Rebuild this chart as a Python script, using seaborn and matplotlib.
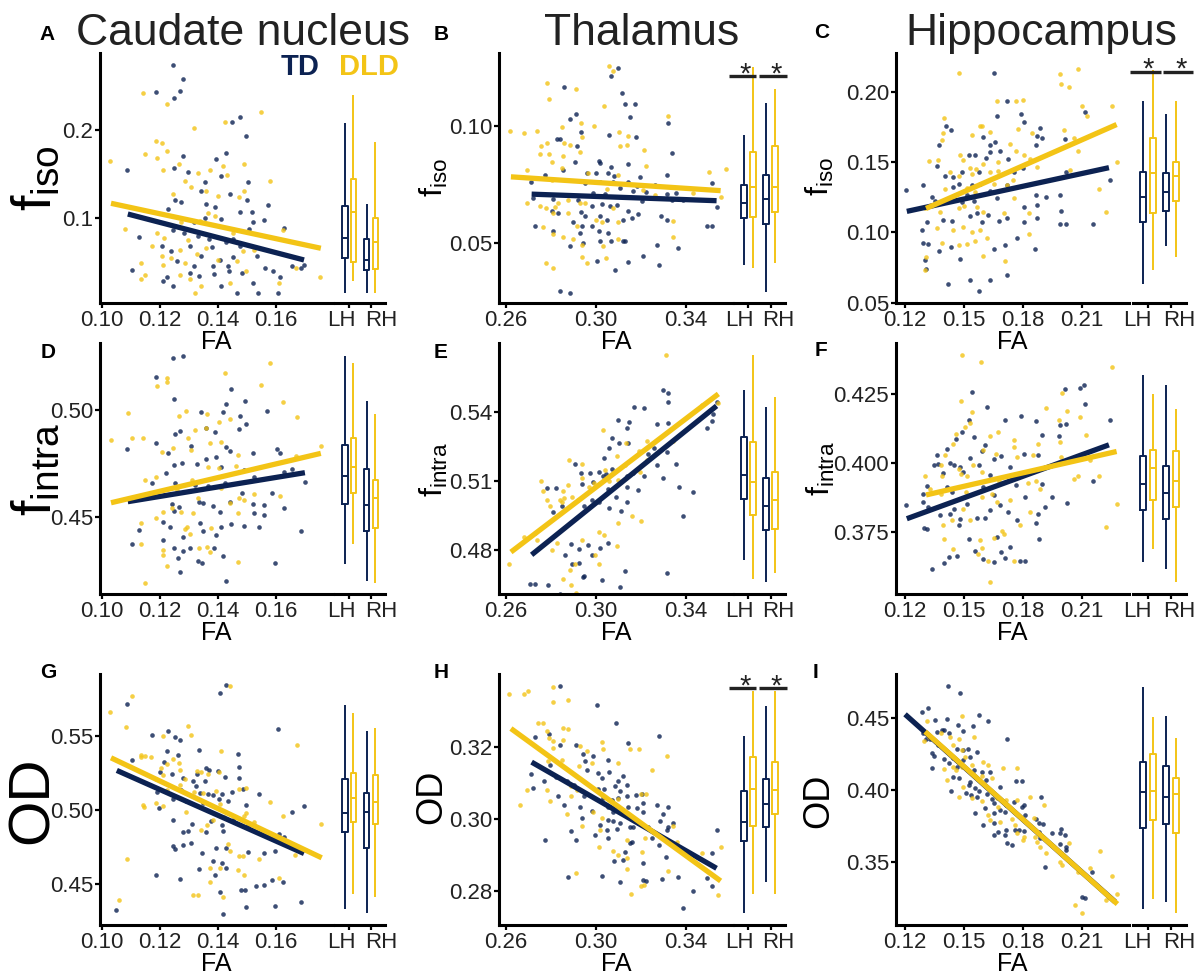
import matplotlib
matplotlib.use("Agg")
import matplotlib.pyplot as plt
from matplotlib.transforms import ScaledTranslation
import seaborn as sns
import pandas as pd

# colours of the two groups
TD_COLOR = "#0c2252"
DLD_COLOR = "#f3c416"

# ---------------- scatter data: (FA, value) ----------------
a_td = [(0.1246,0.2738),(0.1278,0.2578),(0.1186,0.2433),(0.1269,0.2445),(0.1248,0.2365),(0.1477,0.2144),(0.1448,0.2091),
        (0.1497,0.1932),(0.1278,0.1703),(0.1392,0.1665),(0.1429,0.1741),(0.1086,0.1551),(0.1248,0.1563),(0.1295,0.1521),
        (0.1409,0.1475),(0.1357,0.1411),(0.1503,0.1407),(0.1340,0.1304),(0.1443,0.1278),(0.1251,0.1209),(0.1274,0.1179),
        (0.1360,0.1160),(0.1389,0.1125),(0.1501,0.1209),(0.1573,0.1152),(0.1229,0.1106),(0.1518,0.1068),(0.1477,0.1065),
        (0.1560,0.0973),(0.1318,0.0951),(0.1411,0.0992),(0.1520,0.0951),(0.1629,0.0882),(0.1507,0.0875),(0.1128,0.0783),
        (0.1246,0.0867),(0.1283,0.0829),(0.1331,0.0798),(0.1369,0.0760),(0.1429,0.0722),(0.1475,0.0677),(0.1206,0.0684),
        (0.1238,0.0620),(0.1303,0.0684),(0.1381,0.0665),(0.1451,0.0555),(0.1534,0.0563),(0.1341,0.0563),(0.1257,0.0506),
        (0.1318,0.0449),(0.1383,0.0449),(0.1435,0.0449),(0.1483,0.0380),(0.1561,0.0430),(0.1589,0.0403),(0.1103,0.0411),
        (0.1223,0.0335),(0.1211,0.0289),(0.1335,0.0342),(0.1386,0.0365),(0.1409,0.0228),(0.1437,0.0403),(0.1615,0.0335),
        (0.1520,0.0259),(0.1466,0.0144),(0.1537,0.0144),(0.1606,0.0144),(0.1655,0.0456),(0.1686,0.0430),(0.1697,0.0468),
        (0.1355,0.1000),(0.1451,0.0760),(0.1406,0.0525),(0.1303,0.0373),(0.1246,0.0228)]
a_dld = [(0.1029,0.1646),(0.1143,0.2418),(0.1223,0.2293),(0.1317,0.2027),(0.1425,0.2091),(0.1549,0.2205),(0.1186,0.1875),
         (0.1206,0.1848),(0.1149,0.1722),(0.1189,0.1677),(0.1225,0.1760),(0.1209,0.1540),(0.1265,0.1616),(0.1286,0.1418),
         (0.1331,0.1513),(0.1374,0.1551),(0.1417,0.1589),(0.1491,0.1608),(0.1432,0.1483),(0.1579,0.1426),(0.1246,0.1278),
         (0.1306,0.1354),(0.1360,0.1304),(0.1400,0.1255),(0.1472,0.1240),(0.1489,0.1304),(0.1080,0.0875),(0.1189,0.0829),
         (0.1171,0.0684),(0.1215,0.0772),(0.1274,0.0951),(0.1337,0.0962),(0.1389,0.1019),(0.1451,0.0829),(0.1623,0.0867),
         (0.1206,0.0563),(0.1238,0.0544),(0.1269,0.0639),(0.1326,0.0593),(0.1360,0.0658),(0.1486,0.0620),(0.1526,0.0631),
         (0.1134,0.0494),(0.1211,0.0468),(0.1286,0.0487),(0.1400,0.0525),(0.1465,0.0506),(0.1149,0.0354),(0.1135,0.0304),
         (0.1269,0.0354),(0.1305,0.0304),(0.1343,0.0228),(0.1440,0.0259),(0.1497,0.0392),(0.1609,0.0259),(0.1669,0.0430),
         (0.1752,0.0335),(0.1322,0.0152),(0.1366,0.1057),(0.1297,0.0753)]

b_td = [(0.3099,0.1250),(0.3065,0.1213),(0.2859,0.1165),(0.3117,0.1139),(0.3173,0.1094),(0.3130,0.1094),(0.3151,0.1037),
        (0.3321,0.1014),(0.2910,0.1050),(0.2884,0.1028),(0.2933,0.0976),(0.2825,0.0943),(0.2840,0.0943),(0.2914,0.0915),
        (0.3059,0.0962),(0.3178,0.0955),(0.3336,0.0886),(0.3015,0.0851),(0.3065,0.0827),(0.3018,0.0844),(0.2908,0.0847),
        (0.2852,0.0812),(0.3144,0.0837),(0.2773,0.0791),(0.2959,0.0801),(0.3000,0.0798),(0.3052,0.0798),(0.3081,0.0787),
        (0.3196,0.0784),(0.3315,0.0791),(0.2710,0.0763),(0.2951,0.0756),(0.3018,0.0763),(0.3077,0.0759),(0.3144,0.0759),
        (0.3184,0.0744),(0.3262,0.0749),(0.3514,0.0756),(0.2721,0.0692),(0.2810,0.0688),(0.2985,0.0716),(0.3040,0.0709),
        (0.3107,0.0734),(0.3166,0.0723),(0.3221,0.0720),(0.3315,0.0710),(0.3356,0.0713),(0.3388,0.0685),(0.2921,0.0685),
        (0.2981,0.0659),(0.3025,0.0668),(0.3062,0.0659),(0.3095,0.0663),(0.3144,0.0639),(0.3203,0.0680),(0.3336,0.0682),
        (0.3536,0.0653),(0.2806,0.0639),(0.2830,0.0628),(0.2933,0.0632),(0.2951,0.0614),(0.3018,0.0616),(0.3047,0.0599),
        (0.3121,0.0599),(0.3159,0.0607),(0.3187,0.0624),(0.3289,0.0616),(0.3315,0.0597),(0.2729,0.0575),(0.2899,0.0592),
        (0.2936,0.0574),(0.2984,0.0575),(0.3013,0.0550),(0.3055,0.0543),(0.2810,0.0550),(0.3495,0.0571),(0.3514,0.0571),
        (0.2929,0.0543),(0.3065,0.0511),(0.3118,0.0511),(0.3130,0.0507),(0.3018,0.0511),(0.2884,0.0486),(0.2941,0.0500),
        (0.3273,0.0490),(0.3366,0.0479),(0.3210,0.0446),(0.3003,0.0422),(0.3144,0.0418),(0.3281,0.0408),(0.3084,0.0384),
        (0.2840,0.0294),(0.2884,0.0287)]
b_dld = [(0.2618,0.0980),(0.2680,0.0969),(0.2739,0.0980),(0.2781,0.1182),(0.2791,0.1114),(0.2910,0.1158),(0.3059,0.1256),
         (0.3077,0.1236),(0.3037,0.1085),(0.2933,0.1014),(0.2847,0.0997),(0.2936,0.0955),(0.2991,0.1000),(0.3104,0.0976),
         (0.3141,0.0957),(0.3318,0.1043),(0.2754,0.0916),(0.2781,0.0926),(0.2859,0.0926),(0.2884,0.0919),(0.3107,0.0916),
         (0.3136,0.0919),(0.3215,0.0898),(0.2753,0.0879),(0.2793,0.0879),(0.2929,0.0891),(0.2855,0.0872),(0.2804,0.0847),
         (0.2850,0.0820),(0.3224,0.0831),(0.3502,0.0803),(0.3576,0.0815),(0.2692,0.0812),(0.3099,0.0791),(0.2966,0.0798),
         (0.2803,0.0770),(0.2695,0.0670),(0.2751,0.0659),(0.2778,0.0649),(0.2818,0.0656),(0.2830,0.0673),(0.2877,0.0685),
         (0.2929,0.0673),(0.2951,0.0670),(0.3047,0.0730),(0.3077,0.0649),(0.3000,0.0599),(0.3028,0.0588),(0.3099,0.0592),
         (0.3210,0.0727),(0.3262,0.0706),(0.3430,0.0713),(0.3554,0.0695),(0.2763,0.0567),(0.2810,0.0628),(0.2877,0.0628),
         (0.2914,0.0571),(0.2810,0.0540),(0.2852,0.0526),(0.2896,0.0517),(0.2936,0.0493),(0.3030,0.0486),(0.3099,0.0517),
         (0.3344,0.0528),(0.3341,0.0595),(0.2936,0.0440),(0.2959,0.0415),(0.3043,0.0436),(0.2778,0.0415),(0.2807,0.0393)]

c_td = [(0.1205,0.1300),(0.1650,0.2131),(0.1409,0.1754),(0.1434,0.1728),(0.1373,0.1618),(0.1667,0.1830),(0.1718,0.1936),
        (0.1789,0.1841),(0.1803,0.1783),(0.1884,0.1740),(0.2113,0.1853),(0.1599,0.1677),(0.1633,0.1618),(0.1658,0.1641),
        (0.1871,0.1684),(0.1896,0.1670),(0.1867,0.1622),(0.2015,0.1665),(0.1361,0.1472),(0.1404,0.1399),(0.1446,0.1394),
        (0.1489,0.1429),(0.1523,0.1552),(0.1557,0.1547),(0.1577,0.1429),(0.1613,0.1528),(0.1633,0.1571),(0.1684,0.1582),
        (0.1725,0.1524),(0.1754,0.1429),(0.1801,0.1458),(0.2020,0.1429),(0.2241,0.1370),(0.1293,0.1340),(0.1336,0.1253),
        (0.1443,0.1323),(0.1472,0.1342),(0.1540,0.1335),(0.1582,0.1347),(0.1630,0.1295),(0.1718,0.1335),(0.1867,0.1264),
        (0.1918,0.1253),(0.1353,0.1222),(0.1409,0.1229),(0.1489,0.1213),(0.1517,0.1269),(0.1553,0.1222),(0.1667,0.1241),
        (0.1803,0.1182),(0.1871,0.1194),(0.1986,0.1264),(0.1993,0.1154),(0.1310,0.1071),(0.1395,0.1088),(0.1438,0.1081),
        (0.1531,0.1118),(0.1565,0.1135),(0.1591,0.1076),(0.1624,0.1123),(0.1680,0.1081),(0.1718,0.1100),(0.1803,0.1071),
        (0.1871,0.1100),(0.1986,0.1060),(0.2020,0.1060),(0.2156,0.1060),(0.1288,0.1017),(0.1290,0.0923),(0.1319,0.0916),
        (0.1373,0.0864),(0.1434,0.0892),(0.1477,0.0812),(0.1302,0.0805),(0.1307,0.0742),(0.1653,0.0883),(0.1709,0.0907),
        (0.1769,0.0963),(0.1862,0.0883),(0.1531,0.0664),(0.1630,0.0664),(0.1721,0.0695),(0.1421,0.0633),(0.1577,0.0582)]
c_dld = [(0.1472,0.2131),(0.1990,0.2124),(0.2078,0.2164),(0.1993,0.2053),(0.2032,0.2035),(0.2100,0.1900),(0.2125,0.1825),
         (0.2253,0.1900),(0.1399,0.1811),(0.1395,0.1705),(0.1579,0.1759),(0.1591,0.1754),(0.1630,0.1717),(0.1670,0.1936),
         (0.1765,0.1936),(0.1798,0.1943),(0.1772,0.1736),(0.1845,0.1705),(0.1540,0.1693),(0.2010,0.1728),(0.2057,0.1670),
         (0.2078,0.1582),(0.1387,0.1658),(0.1324,0.1505),(0.1370,0.1516),(0.1480,0.1547),(0.1494,0.1516),(0.1528,0.1460),
         (0.1562,0.1453),(0.1596,0.1488),(0.1675,0.1500),(0.1735,0.1625),(0.1765,0.1582),(0.1803,0.1547),(0.1837,0.1524),
         (0.1871,0.1465),(0.2037,0.1441),(0.2278,0.1500),(0.1429,0.1429),(0.1472,0.1401),(0.1540,0.1418),(0.1633,0.1429),
         (0.1675,0.1436),(0.1748,0.1370),(0.1404,0.1307),(0.1514,0.1312),(0.1557,0.1288),(0.1653,0.1347),(0.1718,0.1335),
         (0.1752,0.1241),(0.1302,0.1170),(0.1378,0.1147),(0.1472,0.1175),(0.1502,0.1187),(0.1565,0.1182),(0.1596,0.1142),
         (0.1701,0.1135),(0.1828,0.1135),(0.2185,0.1307),(0.2224,0.1147),(0.1361,0.1029),(0.1446,0.1017),(0.1497,0.1041),
         (0.1540,0.1005),(0.1582,0.1017),(0.1616,0.0963),(0.1387,0.0923),(0.1472,0.0911),(0.1514,0.0918),(0.1557,0.0935),
         (0.1828,0.0989),(0.1305,0.0822),(0.1302,0.0735),(0.1596,0.0829),(0.1709,0.0793)]

d_td = [(0.1246,0.5244),(0.1278,0.5253),(0.1186,0.5152),(0.1248,0.5050),(0.1446,0.5098),(0.1494,0.5042),(0.1429,0.5028),
        (0.1340,0.4989),(0.1417,0.4992),(0.1475,0.4974),(0.1569,0.4995),(0.1497,0.4935),(0.1389,0.4899),(0.1269,0.4904),
        (0.1251,0.4887),(0.1358,0.4915),(0.1471,0.4911),(0.1086,0.4817),(0.1186,0.4848),(0.1306,0.4832),(0.1229,0.4801),
        (0.1429,0.4826),(0.1440,0.4811),(0.1520,0.4798),(0.1603,0.4818),(0.1615,0.4798),(0.1358,0.4770),(0.1392,0.4783),
        (0.1248,0.4744),(0.1275,0.4752),(0.1328,0.4747),(0.1411,0.4736),(0.1491,0.4720),(0.1173,0.4658),(0.1221,0.4705),
        (0.1251,0.4661),(0.1320,0.4651),(0.1366,0.4646),(0.1423,0.4658),(0.1483,0.4612),(0.1526,0.4686),(0.1629,0.4713),
        (0.1657,0.4725),(0.1699,0.4666),(0.1335,0.4573),(0.1349,0.4568),(0.1243,0.4561),(0.1383,0.4553),(0.1440,0.4573),
        (0.1520,0.4561),(0.1560,0.4557),(0.1586,0.4612),(0.1248,0.4531),(0.1265,0.4550),(0.1406,0.4526),(0.1526,0.4522),
        (0.1560,0.4511),(0.1629,0.4545),(0.1211,0.4477),(0.1234,0.4453),(0.1337,0.4475),(0.1411,0.4457),(0.1446,0.4469),
        (0.1489,0.4461),(0.1543,0.4457),(0.1126,0.4441),(0.1209,0.4394),(0.1278,0.4407),(0.1349,0.4438),(0.1394,0.4418),
        (0.1686,0.4438),(0.1103,0.4376),(0.1248,0.4359),(0.1303,0.4359),(0.1278,0.4345),(0.1386,0.4356),(0.1417,0.4320),
        (0.1263,0.4312),(0.1331,0.4298),(0.1346,0.4286),(0.1269,0.4247),(0.1429,0.4205),(0.1598,0.4286)]
d_dld = [(0.1031,0.4860),(0.1088,0.4984),(0.1105,0.4868),(0.1143,0.4871),(0.1223,0.5151),(0.1223,0.5129),(0.1189,0.5112),
         (0.1426,0.5174),(0.1549,0.5116),(0.1579,0.5217),(0.1623,0.5036),(0.1674,0.4969),(0.1289,0.4997),(0.1266,0.4972),
         (0.1362,0.4980),(0.1403,0.4946),(0.1440,0.4957),(0.1320,0.4907),(0.1360,0.4915),(0.1297,0.4868),(0.1246,0.4821),
         (0.1206,0.4806),(0.1306,0.4814),(0.1371,0.4845),(0.1411,0.4852),(0.1469,0.4790),(0.1669,0.4786),(0.1754,0.4834),
         (0.1149,0.4674),(0.1186,0.4689),(0.1257,0.4627),(0.1309,0.4674),(0.1366,0.4736),(0.1403,0.4728),(0.1463,0.4739),
         (0.1474,0.4589),(0.1491,0.4581),(0.1524,0.4609),(0.1615,0.4601),(0.1331,0.4589),(0.1314,0.4519),(0.1240,0.4542),
         (0.1272,0.4526),(0.1440,0.4565),(0.1469,0.4519),(0.1186,0.4498),(0.1209,0.4526),(0.1134,0.4475),(0.1294,0.4457),
         (0.1303,0.4421),(0.1377,0.4449),(0.1286,0.4444),(0.1209,0.4348),(0.1212,0.4325),(0.1134,0.4376),(0.1334,0.4359),
         (0.1363,0.4363),(0.1372,0.4340),(0.1469,0.4293),(0.1223,0.4275),(0.1149,0.4196),(0.1411,0.4635)]

e_td = [(0.3296,0.5495),(0.3319,0.5483),(0.3321,0.5444),(0.3170,0.5420),(0.3215,0.5418),(0.3096,0.5365),(0.3136,0.5328),
        (0.3148,0.5357),(0.3273,0.5347),(0.3321,0.5353),(0.3519,0.5389),(0.3536,0.5440),(0.3514,0.5360),(0.3492,0.5328),
        (0.3070,0.5285),(0.3059,0.5242),(0.3104,0.5263),(0.3144,0.5266),(0.3233,0.5216),(0.3259,0.5242),(0.3314,0.5227),
        (0.3273,0.5167),(0.3356,0.5172),(0.3036,0.5201),(0.3015,0.5140),(0.3030,0.5119),(0.2907,0.5172),(0.2932,0.5136),
        (0.2973,0.5133),(0.3043,0.5130),(0.3071,0.5152),(0.3136,0.5122),(0.3166,0.5133),(0.3215,0.5119),(0.3298,0.5112),
        (0.3433,0.5051),(0.3369,0.5073),(0.2781,0.5068),(0.2822,0.5068),(0.2936,0.5087),(0.2988,0.5093),(0.3052,0.5064),
        (0.3089,0.5032),(0.3136,0.5075),(0.3188,0.5061),(0.2810,0.4963),(0.2850,0.4989),(0.2981,0.5018),(0.3013,0.5006),
        (0.3058,0.4981),(0.3111,0.4971),(0.3136,0.5010),(0.2948,0.4989),(0.3388,0.4948),(0.2887,0.4824),(0.2924,0.4806),
        (0.2982,0.4777),(0.3018,0.4809),(0.3052,0.4831),(0.2862,0.4780),(0.2892,0.4740),(0.2926,0.4744),(0.2948,0.4686),
        (0.3025,0.4669),(0.3129,0.4707),(0.3107,0.4639),(0.3314,0.4698),(0.2707,0.4654),(0.2729,0.4654),(0.2717,0.4600),
        (0.2788,0.4650),(0.2840,0.4611),(0.2803,0.4559),(0.2941,0.4683),(0.2966,0.4821)]
e_dld = [(0.2615,0.4737),(0.2680,0.4855),(0.2739,0.4845),(0.2756,0.5098),(0.2764,0.5054),(0.2784,0.5018),(0.2796,0.4989),
         (0.2847,0.5010),(0.2855,0.5054),(0.2877,0.5081),(0.2880,0.5192),(0.2938,0.5175),(0.2936,0.5113),(0.2858,0.5026),
         (0.2892,0.5029),(0.2936,0.4845),(0.2921,0.5019),(0.3030,0.5322),(0.3040,0.5146),(0.3059,0.5098),(0.3092,0.5207),
         (0.3133,0.5265),(0.3193,0.5228),(0.3225,0.5272),(0.3311,0.5646),(0.3470,0.5431),(0.3544,0.5438),(0.3341,0.5272),
         (0.3159,0.4946),(0.3199,0.4925),(0.3096,0.4918),(0.3015,0.4877),(0.3036,0.4863),(0.3092,0.4816),(0.3015,0.4737),
         (0.2996,0.4777),(0.2907,0.4741),(0.2884,0.4715),(0.2852,0.4675),(0.2887,0.4647),(0.2910,0.4614),(0.2873,0.4600),
         (0.2806,0.4578),(0.2840,0.5018),(0.2993,0.5090),(0.2970,0.5075),(0.3099,0.5104),(0.3129,0.5169),(0.3196,0.5140),
         (0.2729,0.4874),(0.2803,0.4802),(0.2825,0.4831),(0.3225,0.5192)]

f_td = [(0.1205,0.3847),(0.1298,0.3765),(0.1310,0.3763),(0.1336,0.3616),(0.1290,0.3889),(0.1319,0.3841),(0.1361,0.4030),
        (0.1348,0.3992),(0.1370,0.3995),(0.1412,0.4052),(0.1429,0.4001),(0.1451,0.3994),(0.1489,0.4112),(0.1460,0.4088),
        (0.1526,0.4154),(0.1543,0.4257),(0.1551,0.4094),(0.1607,0.4066),(0.1619,0.4202),(0.1709,0.4154),(0.1791,0.4169),
        (0.1867,0.4151),(0.1896,0.4100),(0.1981,0.4098),(0.1990,0.4139),(0.2020,0.4142),(0.2015,0.4266),(0.2088,0.4272),
        (0.2112,0.4284),(0.2117,0.4214),(0.2241,0.4157),(0.1395,0.3965),(0.1412,0.3913),(0.1438,0.3895),(0.1477,0.3986),
        (0.1497,0.3967),(0.1531,0.4018),(0.1574,0.3994),(0.1591,0.4042),(0.1599,0.3913),(0.1630,0.3958),(0.1650,0.4016),
        (0.1689,0.4025),(0.1735,0.3986),(0.1765,0.3922),(0.1803,0.4034),(0.1874,0.4028),(0.1896,0.3923),(0.2156,0.3934),
        (0.1314,0.3919),(0.1290,0.3861),(0.1378,0.3811),(0.1429,0.3817),(0.1451,0.3835),(0.1480,0.3799),(0.1514,0.3853),
        (0.1565,0.3801),(0.1607,0.3801),(0.1633,0.3829),(0.1653,0.3883),(0.1684,0.3847),(0.1726,0.3823),(0.1769,0.3793),
        (0.1811,0.3877),(0.1867,0.3784),(0.1876,0.3817),(0.1913,0.3843),(0.1947,0.3877),(0.2023,0.3857),(0.1400,0.3639),
        (0.1426,0.3660),(0.1463,0.3664),(0.1472,0.3775),(0.1523,0.3727),(0.1557,0.3684),(0.1599,0.3652),(0.1653,0.3642),
        (0.1689,0.3678),(0.1709,0.3657),(0.1735,0.3696),(0.1783,0.3648),(0.1811,0.3648),(0.1879,0.3727),(0.1667,0.3733)]
f_dld = [(0.1489,0.4392),(0.1585,0.4367),(0.2253,0.4349),(0.1483,0.4223),(0.1540,0.4184),(0.1918,0.4199),(0.1996,0.4254),
         (0.2022,0.4187),(0.2090,0.4166),(0.1981,0.4154),(0.1531,0.4146),(0.1506,0.4130),(0.1458,0.4106),(0.1443,0.4070),
         (0.1630,0.4098),(0.1675,0.4112),(0.1752,0.4082),(0.1755,0.4058),(0.1874,0.4070),(0.1990,0.4076),(0.2122,0.4102),
         (0.1404,0.4028),(0.1545,0.3992),(0.1599,0.4046),(0.1664,0.4034),(0.1769,0.4022),(0.1850,0.4028),(0.1993,0.4022),
         (0.2139,0.4010),(0.1302,0.3953),(0.1382,0.3992),(0.1387,0.3955),(0.1472,0.3980),(0.1483,0.3959),(0.1514,0.3955),
         (0.1591,0.3967),(0.1680,0.3934),(0.1823,0.3928),(0.1865,0.3937),(0.2061,0.3943),(0.2078,0.3955),(0.2185,0.3952),
         (0.1327,0.3907),(0.1383,0.3889),(0.1511,0.3895),(0.1591,0.3877),(0.1641,0.3889),(0.1667,0.3859),(0.1735,0.3865),
         (0.1884,0.3905),(0.1833,0.3825),(0.2278,0.3851),(0.1395,0.3777),(0.1438,0.3793),(0.1494,0.3835),(0.1531,0.3793),
         (0.1582,0.3723),(0.1591,0.3693),(0.1621,0.3645),(0.1630,0.3572),(0.1653,0.3730),(0.1692,0.3754),(0.1701,0.3745),
         (0.1783,0.3778),(0.1399,0.3724),(0.1443,0.3688),(0.1570,0.3670),(0.1752,0.3646),(0.2224,0.3769)]

g_td = [(0.1429,0.5843),(0.1408,0.5791),(0.1086,0.5717),(0.1607,0.5544),(0.1229,0.5533),(0.1174,0.5506),(0.1251,0.5492),
        (0.1269,0.5472),(0.1335,0.5409),(0.1103,0.5337),(0.1223,0.5398),(0.1263,0.5375),(0.1469,0.5382),(0.1215,0.5328),
        (0.1360,0.5285),(0.1369,0.5270),(0.1472,0.5292),(0.1200,0.5256),(0.1240,0.5247),(0.1278,0.5218),(0.1326,0.5247),
        (0.1423,0.5222),(0.1472,0.5218),(0.1314,0.5196),(0.1354,0.5196),(0.1400,0.5263),(0.1189,0.5121),(0.1272,0.5139),
        (0.1323,0.5162),(0.1337,0.5117),(0.1366,0.5110),(0.1383,0.5101),(0.1415,0.5112),(0.1449,0.5121),(0.1486,0.5144),
        (0.1543,0.5112),(0.1198,0.5016),(0.1246,0.5072),(0.1291,0.5061),(0.1349,0.5049),(0.1403,0.5072),(0.1434,0.5061),
        (0.1497,0.5034),(0.1246,0.4937),(0.1309,0.4910),(0.1377,0.4926),(0.1415,0.4903),(0.1451,0.4937),(0.1503,0.4903),
        (0.1697,0.5027),(0.1655,0.4989),(0.1278,0.4852),(0.1297,0.4858),(0.1360,0.4852),(0.1417,0.4858),(0.1609,0.4840),
        (0.1629,0.4818),(0.1246,0.4757),(0.1251,0.4739),(0.1278,0.4762),(0.1306,0.4780),(0.1346,0.4712),(0.1383,0.4656),
        (0.1394,0.4742),(0.1429,0.4746),(0.1503,0.4717),(0.1560,0.4708),(0.1598,0.4724),(0.1334,0.4604),(0.1429,0.4607),
        (0.1415,0.4645),(0.1389,0.4562),(0.1480,0.4465),(0.1494,0.4465),(0.1530,0.4488),(0.1559,0.4499),(0.1586,0.4526),
        (0.1626,0.4515),(0.1186,0.4562),(0.1269,0.4537),(0.1408,0.4447),(0.1497,0.4348),(0.1598,0.4353),(0.1686,0.4380),
        (0.1049,0.4326),(0.1417,0.4303)]
g_dld = [(0.1029,0.5661),(0.1103,0.5773),(0.1083,0.5560),(0.1440,0.5836),(0.1295,0.5566),(0.1306,0.5510),(0.1209,0.5503),
         (0.1674,0.5438),(0.1135,0.5375),(0.1150,0.5364),(0.1169,0.5360),(0.1135,0.5360),(0.1246,0.5346),(0.1266,0.5319),
         (0.1411,0.5398),(0.1203,0.5285),(0.1223,0.5308),(0.1269,0.5274),(0.1209,0.5234),(0.1326,0.5267),(0.1343,0.5256),
         (0.1366,0.5245),(0.1403,0.5256),(0.1269,0.5173),(0.1286,0.5211),(0.1186,0.5207),(0.1223,0.5139),(0.1318,0.5121),
         (0.1349,0.5117),(0.1394,0.5128),(0.1474,0.5144),(0.1497,0.5151),(0.1141,0.5038),(0.1146,0.5022),(0.1186,0.5049),
         (0.1209,0.5027),(0.1289,0.4987),(0.1406,0.5043),(0.1497,0.4982),(0.1523,0.4921),(0.1579,0.5054),(0.1623,0.4960),
         (0.1362,0.4897),(0.1383,0.4933),(0.1340,0.4865),(0.1420,0.4953),(0.1754,0.4910),(0.1491,0.4960),(0.1374,0.4611),
         (0.1406,0.4611),(0.1469,0.4600),(0.1491,0.4566),(0.1443,0.4724),(0.1474,0.4694),(0.1486,0.4690),(0.1541,0.4672),
         (0.1667,0.4701),(0.1371,0.4517),(0.1609,0.4544),(0.1086,0.4674),(0.1314,0.4427),(0.1331,0.4425),(0.1417,0.4413),
         (0.1057,0.4393),(0.1434,0.4773)]

h_td = [(0.2840,0.3370),(0.3003,0.3315),(0.3087,0.3265),(0.2729,0.3228),(0.3280,0.3231),(0.2793,0.3237),(0.2841,0.3205),
        (0.2911,0.3206),(0.3144,0.3211),(0.2941,0.3181),(0.2988,0.3176),(0.3055,0.3165),(0.2796,0.3151),(0.2951,0.3160),
        (0.2959,0.3137),(0.2711,0.3125),(0.3010,0.3128),(0.3058,0.3132),(0.3119,0.3120),(0.3025,0.3114),(0.2822,0.3117),
        (0.2769,0.3107),(0.2873,0.3105),(0.3099,0.3106),(0.3136,0.3095),(0.2719,0.3086),(0.2904,0.3095),(0.3010,0.3083),
        (0.3037,0.3083),(0.3084,0.3093),(0.3107,0.3077),(0.3176,0.3068),(0.3206,0.3070),(0.2833,0.3063),(0.2948,0.3063),
        (0.3033,0.3058),(0.3071,0.3054),(0.3099,0.3058),(0.3136,0.3065),(0.3210,0.3044),(0.3273,0.3040),(0.3321,0.3035),
        (0.2859,0.3040),(0.2929,0.3035),(0.3052,0.3035),(0.2981,0.3024),(0.3077,0.3021),(0.3144,0.3035),(0.3181,0.3031),
        (0.3210,0.3019),(0.3296,0.3014),(0.2936,0.3003),(0.3018,0.2984),(0.3055,0.2998),(0.3077,0.2995),(0.3107,0.2989),
        (0.3151,0.2978),(0.3188,0.2989),(0.3233,0.2978),(0.3284,0.2994),(0.3321,0.2977),(0.3344,0.2989),(0.2887,0.2966),
        (0.2996,0.2956),(0.3047,0.2970),(0.3092,0.2973),(0.3166,0.2977),(0.3314,0.2969),(0.3536,0.2969),(0.2773,0.2941),
        (0.2911,0.2943),(0.3055,0.2947),(0.3159,0.2938),(0.3247,0.2947),(0.3151,0.2935),(0.3281,0.2929),(0.3081,0.2885),
        (0.3129,0.2910),(0.3210,0.2880),(0.3311,0.2896),(0.3514,0.2906),(0.3119,0.2887),(0.3210,0.2831),(0.3028,0.2843),
        (0.3107,0.2827),(0.3222,0.2830),(0.3293,0.2834),(0.2877,0.2841),(0.3366,0.2841),(0.3495,0.2838),(0.3514,0.2816),
        (0.3430,0.2802),(0.3385,0.2755)]
h_dld = [(0.2615,0.3347),(0.2680,0.3348),(0.2696,0.3355),(0.2810,0.3366),(0.2807,0.3325),(0.2874,0.3330),(0.2741,0.3265),
         (0.2763,0.3265),(0.2781,0.3244),(0.2791,0.3225),(0.2807,0.3216),(0.2855,0.3253),(0.2877,0.3251),(0.2855,0.3218),
         (0.2807,0.3197),(0.2929,0.3202),(0.2959,0.3188),(0.3025,0.3213),(0.3033,0.3195),(0.3151,0.3193),(0.3193,0.3193),
         (0.3314,0.3174),(0.2785,0.3162),(0.2850,0.3165),(0.2924,0.3146),(0.2981,0.3156),(0.3096,0.3156),(0.3250,0.3137),
         (0.2692,0.3081),(0.2781,0.3080),(0.2887,0.3091),(0.2914,0.3081),(0.3099,0.3056),(0.3200,0.3069),(0.3222,0.3069),
         (0.2662,0.3040),(0.2796,0.3051),(0.2870,0.3015),(0.2887,0.3063),(0.2988,0.3019),(0.2936,0.2980),(0.3028,0.3003),
         (0.3136,0.2943),(0.3218,0.2947),(0.3344,0.2982),(0.3015,0.2924),(0.3077,0.2912),(0.3096,0.2901),(0.3136,0.2892),
         (0.3203,0.2910),(0.3359,0.2938),(0.3470,0.2906),(0.3554,0.2924),(0.3136,0.2862),(0.3200,0.2815),(0.3213,0.2818),
         (0.3319,0.2857),(0.3156,0.2794),(0.2911,0.2850),(0.3018,0.2970),(0.3541,0.2790)]

i_td = [(0.1421,0.4726),(0.1477,0.4679),(0.1315,0.4574),(0.1285,0.4547),(0.1353,0.4488),(0.1412,0.4493),(0.1467,0.4453),
        (0.1574,0.4523),(0.1624,0.4484),(0.1290,0.4395),(0.1361,0.4407),(0.1387,0.4419),(0.1400,0.4419),(0.1426,0.4395),
        (0.1494,0.4414),(0.1548,0.4447),(0.1307,0.4353),(0.1721,0.4353),(0.1370,0.4314),(0.1463,0.4284),(0.1497,0.4279),
        (0.1520,0.4284),(0.1565,0.4267),(0.1336,0.4256),(0.1348,0.4237),(0.1400,0.4214),(0.1443,0.4221),(0.1497,0.4209),
        (0.1531,0.4228),(0.1426,0.4186),(0.1463,0.4158),(0.1336,0.4151),(0.1553,0.4140),(0.1591,0.4128),(0.1630,0.4128),
        (0.1443,0.4093),(0.1472,0.4081),(0.1531,0.4058),(0.1612,0.4070),(0.1766,0.4065),(0.1794,0.4065),(0.1557,0.4012),
        (0.1523,0.4035),(0.1574,0.3993),(0.1681,0.4023),(0.1434,0.3995),(0.1511,0.3977),(0.1536,0.3965),(0.1616,0.3972),
        (0.1641,0.3935),(0.1653,0.3907),(0.1565,0.3953),(0.1893,0.3953),(0.1713,0.3895),(0.1755,0.3919),(0.1794,0.3884),
        (0.1607,0.3872),(0.1557,0.3842),(0.1650,0.3842),(0.1684,0.3860),(0.1709,0.3849),(0.1803,0.3895),(0.1811,0.3826),
        (0.1867,0.3795),(0.1879,0.3767),(0.1653,0.3772),(0.1599,0.3756),(0.1650,0.3686),(0.1672,0.3709),(0.1715,0.3721),
        (0.1760,0.3721),(0.1779,0.3721),(0.1803,0.3714),(0.1709,0.3686),(0.1721,0.3633),(0.1743,0.3616),(0.1879,0.3709),
        (0.1888,0.3663),(0.1947,0.3702),(0.1986,0.3698),(0.1993,0.3726),(0.2015,0.3686),(0.1986,0.3623),(0.2020,0.3605),
        (0.2020,0.3581),(0.1913,0.3465),(0.2100,0.3256),(0.2117,0.3244),(0.2151,0.3430),(0.1327,0.4353),(0.1901,0.3760)]
i_dld = [(0.1310,0.4484),(0.1489,0.4516),(0.1298,0.4342),(0.1324,0.4367),(0.1383,0.4395),(0.1429,0.4367),(0.1446,0.4314),
         (0.1472,0.4353),(0.1489,0.4279),(0.1551,0.4372),(0.1400,0.4144),(0.1443,0.4158),(0.1412,0.4070),(0.1506,0.4233),
         (0.1489,0.4163),(0.1540,0.4174),(0.1599,0.4198),(0.1624,0.4174),(0.1697,0.4151),(0.1769,0.4151),(0.1460,0.4140),
         (0.1551,0.4098),(0.1591,0.4098),(0.1641,0.4081),(0.1494,0.4023),(0.1472,0.3949),(0.1591,0.3926),(0.1667,0.3942),
         (0.1715,0.3930),(0.1769,0.3930),(0.1837,0.3953),(0.1905,0.3895),(0.1624,0.3826),(0.1630,0.3791),(0.1681,0.3779),
         (0.1743,0.3795),(0.1760,0.3756),(0.1769,0.3698),(0.1799,0.3651),(0.1854,0.3802),(0.1862,0.3674),(0.1871,0.3640),
         (0.1884,0.3600),(0.1918,0.3558),(0.1986,0.3500),(0.1998,0.3477),(0.2032,0.3628),(0.2078,0.3430),(0.2142,0.3453),
         (0.2190,0.3574),(0.2224,0.3233),(0.2253,0.3400),(0.2278,0.3274),(0.2063,0.3198),(0.2100,0.3140),(0.1540,0.3942),
         (0.1672,0.3884),(0.1803,0.3674)]

# ---------------- fitted lines (start / end) ----------------
a_td_fit, a_dld_fit = [(0.1089,0.1045),(0.1697,0.0523)], [(0.1031,0.1167),(0.1755,0.0656)]
b_td_fit, b_dld_fit = [(0.2714,0.0709),(0.3536,0.0681)], [(0.2622,0.0783),(0.3554,0.0724)]
c_td_fit, c_dld_fit = [(0.1209,0.1149),(0.2237,0.1460)], [(0.1307,0.1170),(0.2276,0.1767)]
d_td_fit, d_dld_fit = [(0.1089,0.4573),(0.1700,0.4708)], [(0.1031,0.4568),(0.1755,0.4798)]
e_td_fit, e_dld_fit = [(0.2714,0.4779),(0.3536,0.5425)], [(0.2622,0.4791),(0.3544,0.5477)]
f_td_fit, f_dld_fit = [(0.1209,0.3799),(0.2237,0.4066)], [(0.1307,0.3885),(0.2276,0.4042)]
g_td_fit, g_dld_fit = [(0.1051,0.5268),(0.1697,0.4708)], [(0.1031,0.5353),(0.1758,0.4679)]
h_td_fit, h_dld_fit = [(0.2714,0.3158),(0.3536,0.2864)], [(0.2622,0.3251),(0.3554,0.2829)]
i_td_fit, i_dld_fit = [(0.1200,0.4528),(0.2268,0.3221)], [(0.1302,0.4407),(0.2280,0.3205)]

# ---------------- hemisphere boxes: whisker low, q1, median, q3, whisker high ----------------
a_box = [("LH","TD",[0.0144,0.0542,0.0776,0.1140,0.2076]), ("LH","DLD",[0.0284,0.0503,0.1072,0.1443,0.2398]),
         ("RH","TD",[0.0144,0.0409,0.0523,0.0758,0.1159]), ("RH","DLD",[0.0151,0.0417,0.0731,0.0997,0.1860])]
b_box = [("LH","TD",[0.0406,0.0606,0.0670,0.0748,0.0962]), ("LH","DLD",[0.0392,0.0612,0.0740,0.0890,0.1253]),
         ("RH","TD",[0.0292,0.0580,0.0688,0.0791,0.1097]), ("RH","DLD",[0.0413,0.0631,0.0740,0.0916,0.1157])]
c_box = [("LH","TD",[0.0630,0.1071,0.1248,0.1432,0.1931]), ("LH","DLD",[0.0729,0.1137,0.1420,0.1673,0.2156]),
         ("RH","TD",[0.0902,0.1149,0.1288,0.1420,0.1842]), ("RH","DLD",[0.0824,0.1224,0.1401,0.1503,0.1936])]
d_box = [("LH","TD",[0.4282,0.4560,0.4694,0.4837,0.5252]), ("LH","DLD",[0.4376,0.4612,0.4736,0.4868,0.5218]),
         ("RH","TD",[0.4205,0.4438,0.4557,0.4724,0.5042]), ("RH","DLD",[0.4195,0.4449,0.4589,0.4674,0.4981])]
e_box = [("LH","TD",[0.4757,0.5022,0.5126,0.5292,0.5495]), ("LH","DLD",[0.4674,0.4953,0.5097,0.5268,0.5646]),
         ("RH","TD",[0.4659,0.4888,0.4989,0.5114,0.5420]), ("RH","DLD",[0.4700,0.4892,0.5018,0.5140,0.5463])]
f_box = [("LH","TD",[0.3642,0.3829,0.3923,0.4024,0.4320]), ("LH","DLD",[0.3690,0.3865,0.3983,0.4046,0.4250]),
         ("RH","TD",[0.3616,0.3799,0.3893,0.3991,0.4283]), ("RH","DLD",[0.3572,0.3843,0.3937,0.4042,0.4196])]
g_box = [("LH","TD",[0.4331,0.4854,0.4978,0.5207,0.5712]), ("LH","DLD",[0.4432,0.4922,0.5084,0.5252,0.5656]),
         ("RH","TD",[0.4309,0.4747,0.4987,0.5117,0.5537]), ("RH","DLD",[0.4414,0.4910,0.5054,0.5234,0.5555])]
h_box = [("LH","TD",[0.2739,0.2940,0.2992,0.3079,0.3229]), ("LH","DLD",[0.2792,0.2981,0.3084,0.3171,0.3354]),
         ("RH","TD",[0.2827,0.2978,0.3043,0.3111,0.3313]), ("RH","DLD",[0.2794,0.3014,0.3081,0.3157,0.3354])]
i_box = [("LH","TD",[0.3168,0.3733,0.3988,0.4197,0.4720]), ("LH","DLD",[0.3238,0.3791,0.3993,0.4251,0.4511]),
         ("RH","TD",[0.3217,0.3761,0.3953,0.4170,0.4516]), ("RH","DLD",[0.3140,0.3702,0.3970,0.4086,0.4360])]

# significance bars: (x start, x end, star x) in hemisphere units, and bar height
b_sig = ([(-0.88, 0.35, -0.15), (0.49, 1.74, 1.23)], 0.1214)
c_sig = ([(-0.76, 0.56, 0.00), (0.63, 1.95, 1.43)], 0.2144)
h_sig = ([(-0.88, 0.35, -0.15), (0.49, 1.74, 1.23)], 0.3362)

regions = ["Caudate nucleus", "Thalamus", "Hippocampus"]
x_ticks = [[0.10, 0.12, 0.14, 0.16], [0.26, 0.30, 0.34], [0.12, 0.15, 0.18, 0.21]]
y_ticks = {"A": ["0.1", "0.2"], "B": ["0.05", "0.10"], "C": ["0.05", "0.10", "0.15", "0.20"],
           "D": ["0.45", "0.50"], "E": ["0.48", "0.51", "0.54"], "F": ["0.375", "0.400", "0.425"],
           "G": ["0.45", "0.50", "0.55"], "H": ["0.28", "0.30", "0.32"], "I": ["0.35", "0.40", "0.45"]}

# ---------------- layout ----------------
W, H = 1204, 977
sns.set_theme(style="ticks")
plt.rcParams["font.family"] = ["Liberation Sans", "DejaVu Sans"]
plt.rcParams["mathtext.default"] = "regular"

fig = plt.figure(figsize=(W / 100, H / 100), dpi=100)
fig.patch.set_facecolor("white")

col_scatter = [(100, 333), (499, 733), (896, 1129)]
col_box = [(335, 385), (734, 785), (1133, 1186)]
rows = [(53, 303), (343, 594), (674, 925)]
xlims = [(0.0993, 0.1797), (0.2569, 0.3609), (0.1154, 0.2339)]
hemi_label_shift = [(-8, 10), (-9, 8), (-11, 8)]
panels = {
    "A": dict(td=a_td, dld=a_dld, fits=(a_td_fit, a_dld_fit), box=a_box, ylim=(0.0034, 0.2875), sig=None,
              ylab="$f_{iso}$", ylab_size=40, ylab_pos=(37, 178), letter=(47, 35)),
    "B": dict(td=b_td, dld=b_dld, fits=(b_td_fit, b_dld_fit), box=b_box, ylim=(0.0244, 0.1312), sig=b_sig,
              ylab="$f_{iso}$", ylab_size=23, ylab_pos=(434, 178), letter=(441, 35)),
    "C": dict(td=c_td, dld=c_dld, fits=(c_td_fit, c_dld_fit), box=c_box, ylim=(0.0497, 0.2276), sig=c_sig,
              ylab="$f_{iso}$", ylab_size=23, ylab_pos=(820, 177), letter=(822, 33)),
    "D": dict(td=d_td, dld=d_dld, fits=(d_td_fit, d_dld_fit), box=d_box, ylim=(0.4143, 0.5312), sig=None,
              ylab="$f_{intra}$", ylab_size=40, ylab_pos=(37, 469), letter=(48, 352)),
    "E": dict(td=e_td, dld=e_dld, fits=(e_td_fit, e_dld_fit), box=e_box, ylim=(0.4609, 0.5698), sig=None,
              ylab="$f_{intra}$", ylab_size=23, ylab_pos=(434, 470), letter=(441, 352)),
    "F": dict(td=f_td, dld=f_dld, fits=(f_td_fit, f_dld_fit), box=f_box, ylim=(0.3527, 0.4434), sig=None,
              ylab="$f_{intra}$", ylab_size=23, ylab_pos=(821, 469), letter=(821, 351)),
    "G": dict(td=g_td, dld=g_dld, fits=(g_td_fit, g_dld_fit), box=g_box, ylim=(0.4226, 0.5918), sig=None,
              ylab="OD", ylab_size=42, ylab_pos=(33, 800), letter=(48, 672)),
    "H": dict(td=h_td, dld=h_dld, fits=(h_td_fit, h_dld_fit), box=h_box, ylim=(0.2707, 0.3402), sig=h_sig,
              ylab="OD", ylab_size=26, ylab_pos=(432, 797), letter=(441, 672)),
    "I": dict(td=i_td, dld=i_dld, fits=(i_td_fit, i_dld_fit), box=i_box, ylim=(0.3059, 0.4809), sig=None,
              ylab="OD", ylab_size=26, ylab_pos=(819, 801), letter=(816, 672)),
}

INK = "#222222"
SPINE_W = 2.2


def add_px_axes(x0, x1, y0, y1):
    return fig.add_axes([x0 / W, 1 - y1 / H, (x1 - x0) / W, (y1 - y0) / H])


def style_axis(ax):
    for side in ["top", "right"]:
        ax.spines[side].set_visible(False)
    for side in ["left", "bottom"]:
        ax.spines[side].set_linewidth(SPINE_W)
        ax.spines[side].set_color("black")
    ax.tick_params(length=3.5, width=1.6, color="black", labelsize=16, labelcolor=INK, pad=1.5)
    ax.set_facecolor("none")


for idx, key in enumerate("ABCDEFGHI"):
    row, col = divmod(idx, 3)
    p = panels[key]
    ax = add_px_axes(*col_scatter[col], *rows[row])
    style_axis(ax)

    for pts, color in [(p["td"], TD_COLOR), (p["dld"], DLD_COLOR)]:
        df = pd.DataFrame(pts, columns=["FA", "val"])
        sns.scatterplot(data=df, x="FA", y="val", color=color, s=11, alpha=0.8, linewidth=0, ax=ax)
    for line, color in zip(p["fits"], [TD_COLOR, DLD_COLOR]):
        ld = pd.DataFrame(line, columns=["FA", "val"])
        sns.lineplot(data=ld, x="FA", y="val", color=color, linewidth=3.8, sort=False, ax=ax,
                     solid_capstyle="butt")

    ax.set_xlim(*xlims[col])
    ax.set_ylim(*p["ylim"])
    ax.set_xticks(x_ticks[col])
    ax.set_xticklabels([f"{t:.2f}" for t in x_ticks[col]])
    ax.set_yticks([float(t) for t in y_ticks[key]])
    ax.set_yticklabels(y_ticks[key])
    ax.set_ylabel("")
    ax.set_xlabel("FA", fontsize=18, color="black", labelpad=-0.5)

    # hemisphere boxplots
    bax = add_px_axes(*col_box[col], *rows[row])
    style_axis(bax)
    bax.spines["left"].set_visible(False)
    bdf = pd.DataFrame([(hemi, grp, v) for hemi, grp, vals in p["box"] for v in vals],
                       columns=["hemi", "group", "val"])
    sns.boxplot(data=bdf, x="hemi", y="val", hue="group", order=["LH", "RH"], hue_order=["TD", "DLD"],
                palette={"TD": TD_COLOR, "DLD": DLD_COLOR}, fill=False, whis=(0, 100), width=0.8, gap=0.35,
                linewidth=1.4, showfliers=False, legend=False, capprops={"linewidth": 0}, ax=bax)
    bax.set_xlim(-0.64, 1.64)
    bax.set_ylim(*p["ylim"])
    bax.set_yticks([])
    bax.set_xlabel("")
    bax.set_ylabel("")
    for lab, dx in zip(bax.get_xticklabels(), hemi_label_shift[col]):
        lab.set_transform(lab.get_transform() + ScaledTranslation(dx / 100, 0, fig.dpi_scale_trans))

    if p["sig"] is not None:
        bars, ybar = p["sig"]
        for x0, x1, xs in bars:
            bax.plot([x0, x1], [ybar, ybar], color=INK, linewidth=2.4, clip_on=False, solid_capstyle="butt")
            bax.annotate("*", xy=(xs, ybar), xytext=(0, -4.5), textcoords="offset points",
                         ha="center", va="baseline", fontsize=21, color=INK, annotation_clip=False)

    # y label and panel letter
    lx, ly = p["ylab_pos"]
    fig.text(lx / W, 1 - ly / H, p["ylab"], rotation=90, ha="center", va="center",
             fontsize=p["ylab_size"], color="black")
    fx, fy = p["letter"]
    fig.text(fx / W, 1 - fy / H, key, ha="center", va="center", fontsize=15, fontweight="bold", color="black")

# column titles
for col, name in enumerate(regions):
    cx = (col_scatter[col][0] + col_box[col][1]) / 2
    fig.text(cx / W, 1 - 45 / H, name, ha="center", va="baseline", fontsize=32, color=INK)

# group legend in panel A
fig.text(300 / W, 1 - 75 / H, "TD", ha="center", va="baseline", fontsize=21, fontweight="bold", color=TD_COLOR)
fig.text(369 / W, 1 - 75 / H, "DLD", ha="center", va="baseline", fontsize=21, fontweight="bold", color=DLD_COLOR)

fig.savefig("out.png", dpi=100, facecolor="white")
